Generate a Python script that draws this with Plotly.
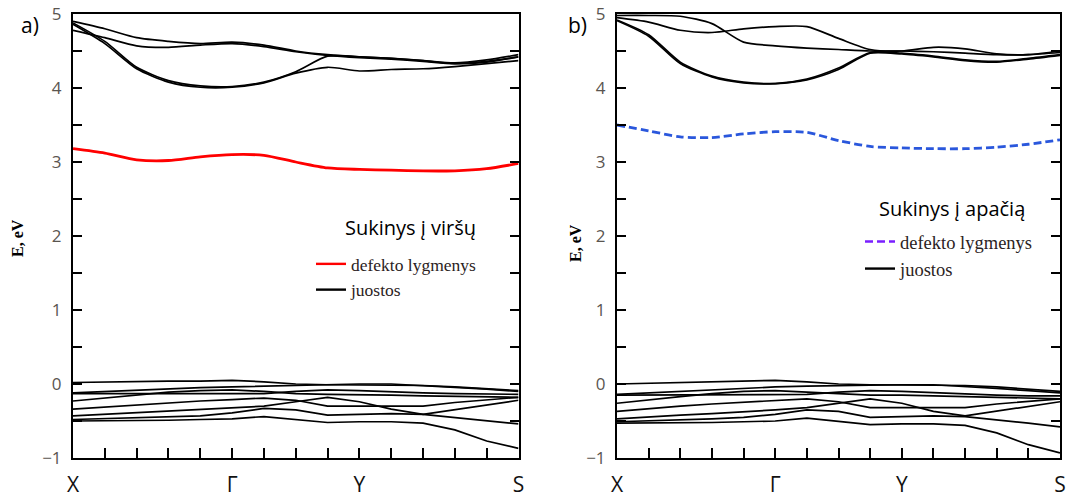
import plotly.graph_objects as go

# ---------------- data ----------------
k = list(range(15))                      # k-path sample points X ... S
kpath_labels = ["X", "Γ", "Y", "S"]
kpath_pos = [0, 5, 9, 14]

# panel a) spin up
up_defect = [3.18, 3.12, 3.03, 3.02, 3.07, 3.10, 3.09, 3.00, 2.92, 2.90, 2.89, 2.88, 2.88, 2.91, 2.98]
up_c1 = [4.90, 4.80, 4.68, 4.63, 4.60, 4.62, 4.58, 4.50, 4.45, 4.42, 4.40, 4.37, 4.34, 4.38, 4.45]
up_c2 = [4.78, 4.68, 4.57, 4.55, 4.58, 4.60, 4.56, 4.49, 4.44, 4.41, 4.39, 4.36, 4.33, 4.36, 4.42]
up_c3 = [4.88, 4.63, 4.28, 4.10, 4.03, 4.02, 4.08, 4.22, 4.43, 4.42, 4.40, 4.37, 4.33, 4.35, 4.42]
up_c4 = [4.86, 4.60, 4.26, 4.08, 4.01, 4.01, 4.07, 4.20, 4.28, 4.23, 4.25, 4.26, 4.29, 4.33, 4.37]
up_v1 = [0.02, 0.03, 0.03, 0.04, 0.04, 0.05, 0.03, 0.00, -0.01, -0.01, -0.01, -0.02, -0.04, -0.06, -0.09]
up_v2 = [-0.12, -0.10, -0.08, -0.06, -0.05, -0.04, -0.03, -0.02, 0.00, 0.00, 0.00, -0.02, -0.05, -0.07, -0.10]
up_v3 = [-0.13, -0.13, -0.14, -0.14, -0.14, -0.14, -0.13, -0.10, -0.08, -0.09, -0.11, -0.12, -0.13, -0.14, -0.14]
up_v4 = [-0.23, -0.19, -0.15, -0.11, -0.09, -0.08, -0.10, -0.13, -0.14, -0.14, -0.15, -0.16, -0.17, -0.18, -0.18]
up_v5 = [-0.34, -0.31, -0.28, -0.25, -0.23, -0.21, -0.19, -0.22, -0.30, -0.30, -0.30, -0.30, -0.25, -0.21, -0.18]
up_v6 = [-0.43, -0.41, -0.39, -0.37, -0.35, -0.33, -0.30, -0.24, -0.18, -0.24, -0.34, -0.41, -0.35, -0.28, -0.22]
up_v7 = [-0.48, -0.47, -0.46, -0.45, -0.43, -0.39, -0.33, -0.35, -0.42, -0.41, -0.40, -0.41, -0.45, -0.50, -0.54]
up_v8 = [-0.50, -0.50, -0.50, -0.49, -0.48, -0.47, -0.44, -0.48, -0.52, -0.51, -0.51, -0.53, -0.62, -0.77, -0.87]

# panel b) spin down
dn_defect = [3.50, 3.42, 3.34, 3.33, 3.38, 3.41, 3.40, 3.29, 3.21, 3.19, 3.18, 3.18, 3.20, 3.24, 3.30]
dn_c1 = [4.98, 4.98, 4.97, 4.87, 4.62, 4.57, 4.54, 4.52, 4.50, 4.50, 4.49, 4.47, 4.45, 4.45, 4.48]
dn_c2 = [4.95, 4.89, 4.78, 4.75, 4.80, 4.83, 4.83, 4.67, 4.52, 4.50, 4.55, 4.53, 4.46, 4.45, 4.50]
dn_c3 = [4.92, 4.72, 4.35, 4.16, 4.08, 4.06, 4.12, 4.27, 4.48, 4.47, 4.43, 4.38, 4.36, 4.40, 4.45]
dn_c4 = [4.91, 4.70, 4.33, 4.15, 4.07, 4.06, 4.11, 4.25, 4.47, 4.46, 4.42, 4.37, 4.35, 4.39, 4.44]
dn_v1 = [0.00, 0.01, 0.02, 0.03, 0.04, 0.05, 0.03, 0.00, -0.01, -0.01, -0.01, -0.02, -0.04, -0.07, -0.10]
dn_v2 = [-0.14, -0.12, -0.09, -0.07, -0.05, -0.04, -0.03, -0.02, -0.01, -0.01, -0.01, -0.03, -0.06, -0.09, -0.12]
dn_v3 = [-0.15, -0.15, -0.15, -0.15, -0.15, -0.15, -0.14, -0.11, -0.09, -0.10, -0.12, -0.13, -0.15, -0.16, -0.16]
dn_v4 = [-0.26, -0.21, -0.17, -0.13, -0.10, -0.09, -0.11, -0.14, -0.15, -0.15, -0.16, -0.17, -0.19, -0.20, -0.20]
dn_v5 = [-0.37, -0.33, -0.30, -0.27, -0.25, -0.22, -0.20, -0.24, -0.32, -0.32, -0.32, -0.32, -0.27, -0.23, -0.20]
dn_v6 = [-0.47, -0.44, -0.42, -0.40, -0.38, -0.35, -0.32, -0.26, -0.20, -0.26, -0.37, -0.43, -0.37, -0.30, -0.24]
dn_v7 = [-0.51, -0.50, -0.49, -0.47, -0.45, -0.41, -0.35, -0.37, -0.45, -0.44, -0.43, -0.44, -0.48, -0.53, -0.58]
dn_v8 = [-0.53, -0.53, -0.53, -0.52, -0.51, -0.50, -0.46, -0.51, -0.55, -0.54, -0.54, -0.56, -0.66, -0.82, -0.93]

up_cond = [up_c1, up_c2, up_c3, up_c4]
up_val = [up_v1, up_v2, up_v3, up_v4, up_v5, up_v6, up_v7, up_v8]
dn_cond = [dn_c1, dn_c2, dn_c3, dn_c4]
dn_val = [dn_v1, dn_v2, dn_v3, dn_v4, dn_v5, dn_v6, dn_v7, dn_v8]

y_ticks = [-1, -0.5, 0, 0.5, 1, 1.5, 2, 2.5, 3, 3.5, 4, 4.5, 5]
y_ticktext = ["−1", "", "0", "", "1", "", "2", "", "3", "", "4", "", "5"]

legend_titles = ["Sukinys į viršų", "Sukinys į apačią"]

SERIF = "Liberation Serif"
SANS = "Open Sans"

fig = go.Figure()

def add_panel(xa, ya, legend, defect, cond, val, def_color, def_dash, leg_color):
    # legend entries
    fig.add_trace(go.Scatter(x=[None], y=[None], mode="lines", name="defekto lygmenys",
                             line=dict(color=leg_color, width=2.4, dash=def_dash),
                             xaxis=xa, yaxis=ya, legend=legend))
    fig.add_trace(go.Scatter(x=[None], y=[None], mode="lines", name="juostos",
                             line=dict(color="black", width=2.4),
                             xaxis=xa, yaxis=ya, legend=legend))
    for band in cond:
        fig.add_trace(go.Scatter(x=k, y=band, mode="lines", showlegend=False,
                                 line=dict(color="black", width=1.7, shape="spline", smoothing=0.7),
                                 xaxis=xa, yaxis=ya, hoverinfo="skip"))
    for band in val:
        fig.add_trace(go.Scatter(x=k, y=band, mode="lines", showlegend=False,
                                 line=dict(color="black", width=1.7),
                                 xaxis=xa, yaxis=ya, hoverinfo="skip"))
    fig.add_trace(go.Scatter(x=k, y=defect, mode="lines", showlegend=False,
                             line=dict(color=def_color, width=2.8, dash=def_dash,
                                       shape="spline", smoothing=0.7),
                             xaxis=xa, yaxis=ya))

add_panel("x", "y", "legend", up_defect, up_cond, up_val, "#ff0000", "solid", "#ff0000")
add_panel("x2", "y2", "legend2", dn_defect, dn_cond, dn_val, "#2a57dc", "8px,4px", "#7a1fff")

H = 498
W = 1073
ydom = [1 - 458 / H, 1 - 14 / H]

xaxis_common = dict(
    range=[0, 14], tickmode="array", tickvals=kpath_pos, ticktext=kpath_labels,
    showgrid=False, zeroline=False, showline=True, linecolor="black", linewidth=2,
    mirror=True, ticks="", tickfont=dict(family=SANS, size=21, color="#111"),
    ticklabelstandoff=7, automargin=False,
    minor=dict(tickmode="array", tickvals=list(range(1, 14)), ticks="inside",
               ticklen=10, tickwidth=2, tickcolor="black"),
)
yaxis_common = dict(
    range=[-1, 5], tickmode="array", tickvals=y_ticks, ticktext=y_ticktext,
    showgrid=False, zeroline=False, showline=True, linecolor="black", linewidth=2,
    mirror="allticks", ticks="inside", ticklen=9, tickwidth=2, tickcolor="black",
    tickfont=dict(family=SANS, size=17, color="#5a5550"), ticklabelstandoff=6,
    automargin=False,
)

fig.update_layout(
    width=W, height=H, margin=dict(l=0, r=0, t=0, b=0, autoexpand=False),
    paper_bgcolor="white", plot_bgcolor="white",
    xaxis=dict(domain=[73 / W, 518.5 / W], anchor="y", **xaxis_common),
    yaxis=dict(domain=ydom, anchor="x", **yaxis_common),
    xaxis2=dict(domain=[617 / W, 1060 / W], anchor="y2", **xaxis_common),
    yaxis2=dict(domain=ydom, anchor="x2", **yaxis_common),
    legend=dict(x=311 / W, y=1 - 246 / H, xanchor="left", yanchor="top",
                bgcolor="rgba(255,255,255,0)", borderwidth=0, tracegroupgap=0,
                font=dict(family=SERIF, size=17.5, color="#2b2222")),
    legend2=dict(x=860 / W, y=1 - 223 / H, xanchor="left", yanchor="top",
                 bgcolor="rgba(255,255,255,0)", borderwidth=0, tracegroupgap=0,
                 font=dict(family=SERIF, size=18.5, color="#2b2222")),
    showlegend=True,
    annotations=[
        dict(text=legend_titles[0], x=410 / W, y=1 - 228 / H, xref="paper", yref="paper",
             xanchor="center", yanchor="middle",
             showarrow=False, font=dict(family=SANS, size=20, color="black")),
        dict(text=legend_titles[1], x=952 / W, y=1 - 208 / H, xref="paper", yref="paper",
             xanchor="center", yanchor="middle",
             showarrow=False, font=dict(family=SANS, size=20, color="black")),
        dict(text="a)", x=30 / W, y=1 - 25 / H, xref="paper", yref="paper",
             xanchor="center", yanchor="middle",
             showarrow=False, font=dict(family=SANS, size=21, color="black")),
        dict(text="b)", x=577 / W, y=1 - 25 / H, xref="paper", yref="paper",
             xanchor="center", yanchor="middle",
             showarrow=False, font=dict(family=SANS, size=21, color="black")),
        dict(text="<b>E, eV</b>", x=18 / W, y=1 - 238 / H, xref="paper", yref="paper",
             xanchor="center", yanchor="middle",
             showarrow=False, textangle=-90, font=dict(family=SERIF, size=16, color="black")),
        dict(text="<b>E, eV</b>", x=575 / W, y=1 - 243 / H, xref="paper", yref="paper",
             xanchor="center", yanchor="middle",
             showarrow=False, textangle=-90, font=dict(family=SERIF, size=16, color="black")),
    ],
)

fig.write_html("out.html")
